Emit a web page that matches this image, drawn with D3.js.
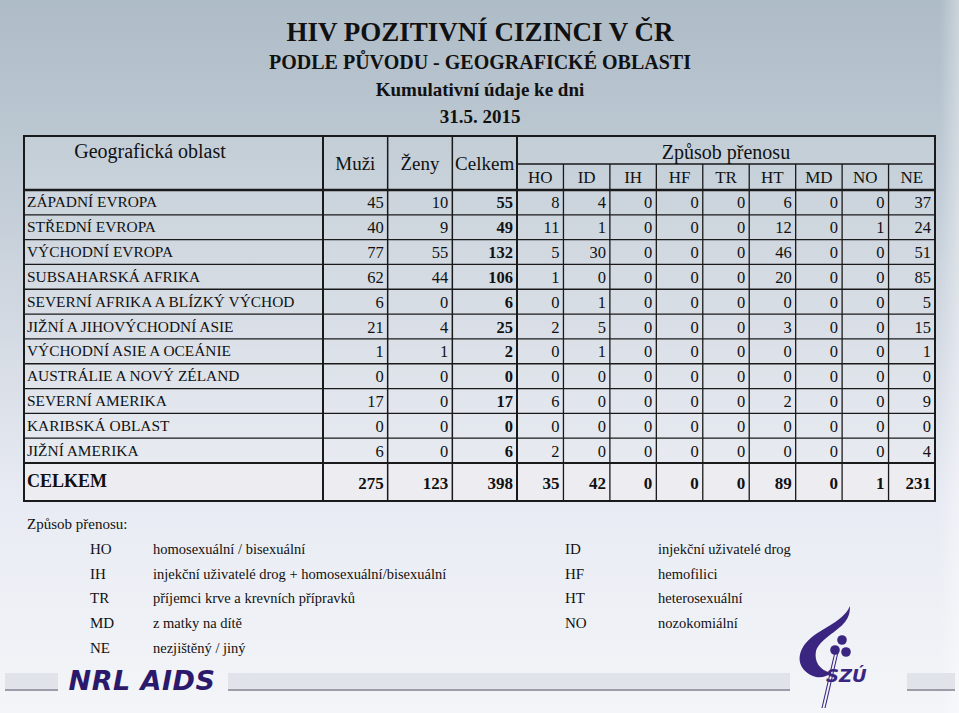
<!DOCTYPE html>
<html><head><meta charset="utf-8">
<script src="https://cdn.jsdelivr.net/npm/d3@7"></script>
<style>html,body{margin:0;padding:0;overflow:hidden;background:#eef0f6}</style>
</head><body>
<script>
const titleLines = ["HIV POZITIVNÍ CIZINCI V ČR","PODLE PŮVODU - GEOGRAFICKÉ OBLASTI","Kumulativní údaje ke dni","31.5.  2015"];
const regions = ["ZÁPADNÍ EVROPA","STŘEDNÍ EVROPA","VÝCHODNÍ EVROPA","SUBSAHARSKÁ AFRIKA","SEVERNÍ AFRIKA A BLÍZKÝ VÝCHOD","JIŽNÍ A JIHOVÝCHODNÍ ASIE","VÝCHODNÍ ASIE A OCEÁNIE","AUSTRÁLIE A NOVÝ ZÉLAND","SEVERNÍ AMERIKA","KARIBSKÁ OBLAST","JIŽNÍ AMERIKA"];
const muzi   = [45,40,77,62,6,21,1,0,17,0,6];
const zeny   = [10,9,55,44,0,4,1,0,0,0,0];
const celkem = [55,49,132,106,6,25,2,0,17,0,6];
const codes = ["HO","ID","IH","HF","TR","HT","MD","NO","NE"];
const HO = [8,11,5,1,0,2,0,0,6,0,2];
const ID = [4,1,30,0,1,5,1,0,0,0,0];
const IH = [0,0,0,0,0,0,0,0,0,0,0];
const HF = [0,0,0,0,0,0,0,0,0,0,0];
const TR = [0,0,0,0,0,0,0,0,0,0,0];
const HT = [6,12,46,20,0,3,0,0,2,0,0];
const MD = [0,0,0,0,0,0,0,0,0,0,0];
const NO = [0,1,0,0,0,0,0,0,0,0,0];
const NE = [37,24,51,85,5,15,1,0,9,0,4];
const totalLabel = "CELKEM";
const totals = [275,123,398,35,42,0,0,0,89,0,1,231];
const legendLeft = [["HO","homosexuální / bisexuální"],["IH","injekční uživatelé drog + homosexuální/bisexuální"],["TR","příjemci krve a krevních přípravků"],["MD","z matky na dítě"],["NE","nezjištěný / jiný"]];
const legendRight = [["ID","injekční uživatelé drog"],["HF","hemofilici"],["HT","heterosexuální"],["NO","nozokomiální"]];

const W=959,H=713;
const serif="'Liberation Serif','Times New Roman',serif";
const svg=d3.select("body").append("svg").attr("width",W).attr("height",H);
const defs=svg.append("defs");
const g=defs.append("linearGradient").attr("id","bg").attr("x1",0).attr("y1",0).attr("x2",0).attr("y2",1);
[[0,"#aebcc7"],[0.2,"#bcc8d2"],[0.45,"#d3d9e2"],[0.7,"#e8ebf3"],[1,"#f3f5f8"]].forEach(s=>g.append("stop").attr("offset",s[0]).attr("stop-color",s[1]));
svg.append("rect").attr("width",W).attr("height",H).attr("fill","url(#bg)");
const g2=defs.append("linearGradient").attr("id","rs").attr("x1",0).attr("y1",0).attr("x2",1).attr("y2",0);
g2.append("stop").attr("offset",0).attr("stop-color","#fff").attr("stop-opacity",0);
g2.append("stop").attr("offset",1).attr("stop-color","#fff").attr("stop-opacity",0.35);
svg.append("rect").attr("x",940).attr("y",0).attr("width",19).attr("height",H).attr("fill","url(#rs)");

// Title
const tY=[32,62,89,116], tS=[27,20,19,19];
svg.selectAll("text.title").data(titleLines).join("text").attr("class","title")
  .attr("x",480).attr("y",(d,i)=>tY[i]+ (i===0?9:7)).attr("text-anchor","middle")
  .attr("font-family",serif).attr("font-weight","bold").attr("font-size",(d,i)=>tS[i]).attr("fill","#111").text(d=>d);

// Table geometry via scales
const x0=24, xReg=323;
const xNum=d3.scaleLinear().domain([0,3]).range([323,517]);   // Muži, Ženy, Celkem edges
const xCode=d3.scaleLinear().domain([0,9]).range([517,935]);  // transmission columns
const yTop=136, ySub=164, yHead=190;
const yRow=d3.scaleBand().domain(regions).range([yHead,463]);
const yTotBottom=501;

const T=svg.append("g");
T.append("rect").attr("x",x0).attr("y",yTop).attr("width",935-x0).attr("height",yHead-yTop).attr("fill","#fff").attr("fill-opacity",0.12);
T.append("rect").attr("x",x0).attr("y",yHead).attr("width",935-x0).attr("height",463-yHead).attr("fill","#fff").attr("fill-opacity",0.15);
T.append("rect").attr("x",x0).attr("y",463).attr("width",935-x0).attr("height",yTotBottom-463).attr("fill","#ececf1");

const line=(x1,y1,x2,y2,w)=>T.append("line").attr("x1",x1).attr("y1",y1).attr("x2",x2).attr("y2",y2).attr("stroke","#1a1a1a").attr("stroke-width",w);
regions.forEach((r,i)=>{ if(i>0) line(x0,yRow(r),935,yRow(r),1.3); });
line(x0,463,935,463,2);
line(x0,yHead,935,yHead,2.5);
line(517,ySub,935,ySub,1.3);
line(xReg,yTop,xReg,yTotBottom,2);
[1,2].forEach(k=>line(xNum(k),yTop,xNum(k),yTotBottom,1.5));
line(517,yTop,517,yTotBottom,2);
d3.range(1,9).forEach(k=>line(xCode(k),ySub,xCode(k),yTotBottom,1.3));
T.append("rect").attr("x",x0).attr("y",yTop).attr("width",935-x0).attr("height",yTotBottom-yTop).attr("fill","none").attr("stroke","#1a1a1a").attr("stroke-width",2);

const txt=(x,y,s,size,anchor,bold)=>T.append("text").attr("x",x).attr("y",y).attr("font-family",serif).attr("font-size",size)
  .attr("text-anchor",anchor||"start").attr("font-weight",bold?"bold":"normal").attr("fill","#111").text(s);
txt(150,158,"Geografická oblast",20,"middle");
["Muži","Ženy","Celkem"].forEach((s,i)=>txt((xNum(i)+xNum(i+1))/2,170,s,19,"middle"));
txt(726,159,"Způsob přenosu",20,"middle");
codes.forEach((c,i)=>txt((xCode(i)+xCode(i+1))/2,183,c,17,"middle"));

const series=[HO,ID,IH,HF,TR,HT,MD,NO,NE];
regions.forEach((r,i)=>{
  const yb=yRow(r)+yRow.bandwidth()/2+5;
  txt(27,yb,r,15.4,"start");
  [muzi,zeny,celkem].forEach((arr,k)=>txt(xNum(k+1)-4,yb+1,arr[i],16.5,"end",k===2));
  series.forEach((arr,k)=>txt(xCode(k+1)-4,yb+1,arr[i],16.5,"end"));
});
const yt=(463+yTotBottom)/2+6;
txt(27,yt-1,totalLabel,18,"start",true);
totals.forEach((v,k)=>{
  const xe = k<3 ? xNum(k+1) : xCode(k-2);
  txt(xe-4,yt+1,v,17,"end",true);
});

// legend
const L=svg.append("g").attr("font-family",serif).attr("fill","#111").attr("font-size",14.5);
L.append("text").attr("x",27).attr("y",529).attr("font-size",15).text("Způsob přenosu:");
const ly=d3.scaleLinear().domain([0,1]).range([554,578.7]);
legendLeft.forEach((d,i)=>{L.append("text").attr("x",90).attr("y",ly(i)).attr("font-size",15).text(d[0]);L.append("text").attr("x",153).attr("y",ly(i)).text(d[1]);});
legendRight.forEach((d,i)=>{L.append("text").attr("x",565).attr("y",ly(i)).attr("font-size",15).text(d[0]);L.append("text").attr("x",658).attr("y",ly(i)).text(d[1]);});

// footer bars
const bars=[[5,58],[228,790],[907,955]];
bars.forEach(b=>{
  svg.append("rect").attr("x",b[0]).attr("y",673).attr("width",b[1]-b[0]).attr("height",17).attr("fill","#e1e3eb");
  svg.append("rect").attr("x",b[0]).attr("y",689).attr("width",b[1]-b[0]).attr("height",2).attr("fill","#9d9ca8");
});
// NRL AIDS logo
svg.append("text").attr("x",142).attr("y",690).attr("text-anchor","middle").attr("font-family","'DejaVu Sans',sans-serif")
  .attr("font-weight","bold").attr("font-style","italic").attr("font-size",27).attr("fill","#2b1a6b").attr("letter-spacing","0.5").text("NRL AIDS");
// SZU logo
const lg=svg.append("g").attr("fill","#3a2680");
lg.append("path").attr("d","M850,606 C842,624 818,628 805,644 C795,657 799,672 816,677 C822,678 828,676 831,673 C819,670 814,661 816,651 C820,639 837,632 845,622 C849,617 850,612 850,606 Z");
lg.append("path").attr("d","M822,708 L835,652").attr("stroke","#3a2680").attr("stroke-width",1.1).attr("fill","none");
lg.append("path").attr("d","M825,708 L838,652").attr("stroke","#3a2680").attr("stroke-width",1.1).attr("fill","none");
[[842,640,4.8],[835,650,4.8],[846,652,4.8]].forEach(c=>lg.append("circle").attr("cx",c[0]).attr("cy",c[1]).attr("r",c[2]));
lg.append("text").attr("x",826).attr("y",682).attr("font-family","'DejaVu Sans',sans-serif").attr("font-weight","bold").attr("font-style","italic").attr("font-size",18).text("SZÚ");
</script>
</body></html>
